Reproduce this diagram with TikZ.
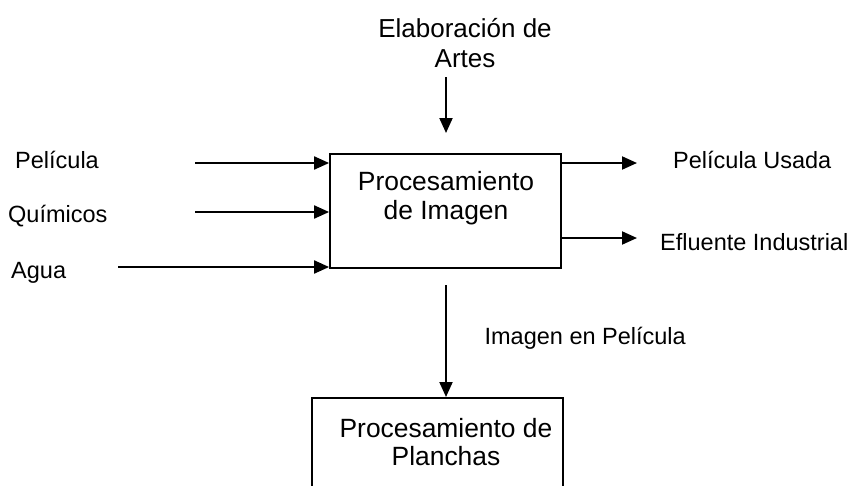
\documentclass[tikz,border=0pt]{standalone}
\usepackage{fontspec}
\setmainfont{Liberation Sans}
\usetikzlibrary{arrows.meta}
\tikzset{
  lbl/.style={inner sep=0pt, font=\fontsize{23.5}{29.5}\selectfont},
  toplbl/.style={inner sep=0pt, font=\fontsize{26}{29.5}\selectfont},
  boxtxt/.style={inner sep=0pt, align=center, font=\fontsize{26.4}{29.5}\selectfont},
  procbox/.style={draw, line width=1.8pt, inner sep=0pt},
  arr/.style={line width=2pt, -{Triangle[length=15pt,width=13pt]}}
}
\begin{document}
\begin{tikzpicture}[x=1pt,y=-1pt]
\useasboundingbox (0,0) rectangle (852,485);
\clip (0,0) rectangle (852,485);
% main box
\node[procbox, minimum width=231pt, minimum height=114pt] (proc) at (445.5,211) {};
\node[boxtxt, anchor=base] (proct1) at (446,190) {Procesamiento};
\node[boxtxt, anchor=base] (proct2) at (446,219) {de Imagen};
% bottom box (cut off)
\node[procbox, minimum width=251pt, minimum height=150pt, anchor=north] (plan) at (437.5,397) {};
\node[boxtxt, anchor=base] (plant1) at (446,437) {Procesamiento de};
\node[boxtxt, anchor=base] (plant2) at (446,465) {Planchas};
% top label
\node[toplbl, anchor=base] (art1) at (465,37) {Elaboración de};
\node[toplbl, anchor=base] (art2) at (465,67) {Artes};
% left labels
\node[lbl, anchor=base west] (pel) at (15,168) {Película};
\node[lbl, anchor=base west] (qui) at (8,222) {Químicos};
\node[lbl, anchor=base west] (agua) at (11,278) {Agua};
% right labels
\node[lbl, anchor=base west] (pelu) at (673,168) {Película Usada};
\node[lbl, anchor=base west] (eflu) at (660,250) {Efluente Industrial};
\node[lbl, anchor=base east] (imgp) at (686,344) {Imagen en Película};
% free ends
\coordinate (a0) at (446,77);
\coordinate (p0) at (195,163);
\coordinate (q0) at (195,212);
\coordinate (g0) at (118,267);
\coordinate (u1) at (637,163);
\coordinate (e1) at (637,238);
\coordinate (d0) at (446,285);
% arrows
\draw[arr] (a0) -- (446,133);
\draw[arr] (p0) -- (p0 -| proc.west);
\draw[arr] (q0) -- (q0 -| proc.west);
\draw[arr] (g0) -- (g0 -| proc.west);
\draw[arr] (u1 -| proc.east) -- (u1);
\draw[arr] (e1 -| proc.east) -- (e1);
\draw[arr] (d0) -- (d0 |- plan.north);
\end{tikzpicture}
\end{document}
